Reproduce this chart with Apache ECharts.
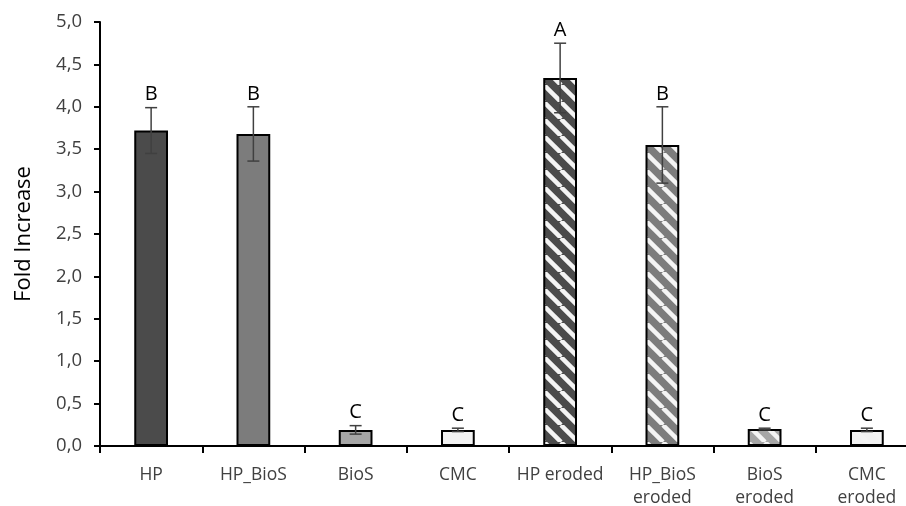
<!DOCTYPE html>
<html>
<head>
<meta charset="utf-8">
<script src="https://cdn.jsdelivr.net/npm/echarts@6/dist/echarts.min.js"></script>
<style>html,body{margin:0;padding:0;background:#fff}#c{width:906px;height:506px}</style>
</head>
<body>
<div id="c"></div>
<script>
const categories = ['HP', 'HP_BioS', 'BioS', 'CMC', 'HP eroded', 'HP_BioS\neroded', 'BioS\neroded', 'CMC\neroded'];
const means = [3.72, 3.68, 0.19, 0.19, 4.34, 3.55, 0.20, 0.19];
const errors = [0.27, 0.32, 0.05, 0.02, 0.41, 0.45, 0.01, 0.02];
const letters = ['B', 'B', 'C', 'C', 'A', 'B', 'C', 'C'];
const yTicks = [0, 0.5, 1, 1.5, 2, 2.5, 3, 3.5, 4, 4.5, 5];

const baseColors = ['#4b4b4b', '#7c7c7c', '#a6a6a6', '#f2f2f2', '#4b4b4b', '#7c7c7c', '#a6a6a6', '#f2f2f2'];
const hatched = [false, false, false, false, true, true, true, true];

function hatch(color) {
  const s = 17;
  const cv = document.createElement('canvas');
  cv.width = s; cv.height = s;
  const ctx = cv.getContext('2d');
  ctx.fillStyle = color;
  ctx.fillRect(0, 0, s, s);
  ctx.strokeStyle = '#f4f4f4';
  ctx.lineWidth = 4.5;
  [-s, 0, s].forEach(x0 => {
    ctx.beginPath();
    ctx.moveTo(x0, 0);
    ctx.lineTo(x0 + s, s);
    ctx.stroke();
  });
  return { image: cv, repeat: 'repeat' };
}

const barData = means.map((v, i) => ({
  value: v,
  itemStyle: { color: hatched[i] ? hatch(baseColors[i]) : baseColors[i] }
}));
const errData = means.map((v, i) => [i, v, errors[i]]);

const chart = echarts.init(document.getElementById('c'), null, { renderer: 'canvas' });
chart.setOption({
  animation: false,
  backgroundColor: '#fff',
  grid: { left: 100, right: -12, top: 22, bottom: 60, containLabel: false, outerBoundsMode: 'none' },
  xAxis: {
    type: 'category',
    data: categories,
    axisLine: { lineStyle: { color: '#000', width: 2 } },
    axisTick: { show: true, length: 7, lineStyle: { color: '#000', width: 2 } },
    axisLabel: {
      color: '#404040', fontSize: 17.5, fontFamily: 'Open Sans', margin: 18, lineHeight: 23, interval: 0
    }
  },
  yAxis: {
    type: 'value',
    min: 0, max: 5, interval: 0.5,
    name: 'Fold Increase',
    nameLocation: 'middle',
    nameGap: 65,
    nameTextStyle: { color: '#000', fontSize: 22, fontFamily: 'Open Sans' },
    splitLine: { show: false },
    axisLine: { show: true, lineStyle: { color: '#000', width: 2 } },
    axisTick: { show: true, length: 6, lineStyle: { color: '#000', width: 2 } },
    axisLabel: {
      color: '#404040', fontSize: 18.5, fontFamily: 'Open Sans', margin: 18,
      formatter: v => yTicks.includes(v) ? v.toFixed(1).replace('.', ',') : ''
    }
  },
  series: [
    {
      type: 'bar',
      data: barData,
      barWidth: '33%',
      itemStyle: { borderColor: '#000', borderWidth: 2 }
    },
    {
      type: 'custom',
      data: errData,
      z: 10,
      renderItem: (params, api) => {
        const i = api.value(0), m = api.value(1), e = api.value(2);
        const top = api.coord([i, m + e]);
        const bot = api.coord([i, m - e]);
        const hc = 6;
        const st = { stroke: '#404040', lineWidth: 1.5 };
        return {
          type: 'group',
          children: [
            { type: 'line', shape: { x1: top[0], y1: top[1], x2: bot[0], y2: bot[1] }, style: st },
            { type: 'line', shape: { x1: top[0] - hc, y1: top[1], x2: top[0] + hc, y2: top[1] }, style: st },
            { type: 'line', shape: { x1: bot[0] - hc, y1: bot[1], x2: bot[0] + hc, y2: bot[1] }, style: st },
            { type: 'text', x: top[0], y: top[1] - 3,
              style: { text: letters[params.dataIndex], textAlign: 'center', textVerticalAlign: 'bottom',
                       font: '20px "Open Sans"', fill: '#000' } }
          ]
        };
      }
    }
  ]
});
</script>
</body>
</html>
